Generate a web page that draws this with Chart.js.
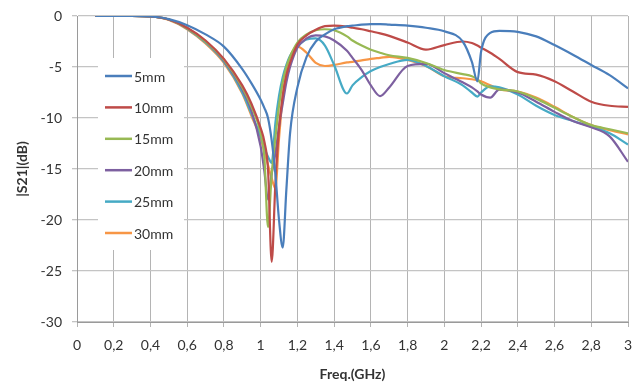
<!DOCTYPE html>
<html>
<head>
<meta charset="utf-8">
<script src="https://cdn.jsdelivr.net/npm/chart.js@4.4.0/dist/chart.umd.min.js"></script>
<style>
  html, body { margin: 0; padding: 0; background: #fff; }
</style>
</head>
<body>
<canvas id="s21Chart" width="633" height="383"></canvas>
<script>
// Frequência (GHz)
const freq = [0.1, 0.2, 0.3, 0.4, 0.5, 0.6, 0.7, 0.8, 0.9, 0.95,
  1.0, 1.02, 1.04, 1.06, 1.08, 1.1, 1.12, 1.14, 1.16, 1.2,
  1.25, 1.3, 1.35, 1.4, 1.47, 1.5, 1.55, 1.6, 1.65, 1.7,
  1.8, 1.9, 2.0, 2.1, 2.15, 2.18, 2.2, 2.25, 2.3, 2.4,
  2.5, 2.6, 2.7, 2.8, 2.9, 3.0];

// |S21| (dB) por espessura
const s5mm = [0, 0, 0, -0.05, -0.3, -0.9, -1.8, -3.0, -5.2, -6.6,
  -8.2, -9.0, -10.0, -12.2, -15.5, -20.0, -22.7, -17.0, -11.5, -7.0,
  -4.0, -2.5, -1.8, -1.3, -1.0, -0.95, -0.85, -0.8, -0.8, -0.85,
  -0.95, -1.15, -1.5, -2.5, -4.5, -6.4, -3.5, -1.65, -1.45, -1.55,
  -2.0, -2.85, -3.8, -4.8, -5.8, -7.1];
const s10mm = [0, 0, 0, -0.05, -0.35, -1.15, -2.4, -4.2, -6.8, -8.6,
  -11.0, -12.3, -15.0, -24.1, -16.5, -11.0, -7.8, -5.8, -4.6, -2.8,
  -1.9, -1.35, -1.0, -0.95, -1.05, -1.15, -1.3, -1.5, -1.7, -1.95,
  -2.6, -3.3, -2.85, -2.5, -2.65, -2.9, -3.1, -3.6, -4.2, -5.5,
  -5.75, -6.4, -7.4, -8.4, -8.8, -8.9];
const s15mm = [0, 0, 0, -0.05, -0.35, -1.2, -2.5, -4.3, -7.0, -8.9,
  -11.5, -13.8, -20.7, -15.5, -12.0, -8.8, -6.5, -5.0, -4.0, -2.6,
  -1.8, -1.4, -1.3, -1.4, -2.0, -2.4, -2.9, -3.3, -3.6, -3.85,
  -4.1, -4.6, -5.3, -5.7, -5.9, -6.2, -6.6, -7.0, -7.2, -7.4,
  -8.1, -9.0, -9.9, -10.7, -11.1, -11.5];
const s20mm = [0, 0, 0, -0.05, -0.35, -1.2, -2.5, -4.4, -7.2, -9.3,
  -12.8, -15.2, -18.0, -15.5, -13.5, -10.8, -8.6, -6.5, -5.0, -3.1,
  -2.2, -1.9, -2.0, -2.4, -3.4, -4.1, -5.3, -6.8, -7.85, -7.0,
  -4.9, -4.7, -5.6, -6.5, -7.0, -7.4, -7.7, -8.0, -7.2, -7.5,
  -8.4, -9.4, -10.3, -10.9, -11.8, -14.3];
const s25mm = [0, 0, 0, -0.05, -0.35, -1.25, -2.6, -4.5, -7.5, -9.6,
  -11.8, -12.9, -13.8, -14.4, -10.5, -7.8, -6.0, -4.8, -3.9, -3.0,
  -2.3, -2.2, -2.9, -4.8, -7.6, -6.8, -6.0, -5.4, -5.0, -4.7,
  -4.3, -4.9, -5.9, -6.8, -7.5, -7.9, -7.5, -6.9, -7.0, -7.7,
  -8.8, -9.7, -10.3, -10.85, -11.5, -12.6];
const s30mm = [0, 0, 0, -0.05, -0.4, -1.3, -2.7, -4.6, -7.6, -9.8,
  -12.0, -13.3, -14.6, -15.9, -16.9, -12.0, -8.0, -5.5, -4.0, -3.0,
  -3.6, -4.6, -4.9, -4.8, -4.55, -4.5, -4.35, -4.2, -4.1, -4.0,
  -4.3, -4.9, -5.9, -6.1, -6.2, -6.3, -6.4, -6.8, -7.2, -7.4,
  -8.0, -8.9, -9.9, -10.7, -11.2, -11.6];

const nomes = ["5mm", "10mm", "15mm", "20mm", "25mm", "30mm"];
const series = [s5mm, s10mm, s15mm, s20mm, s25mm, s30mm];
const cores = ["#4a7ebb", "#be4b48", "#98b954", "#7d60a0", "#46aac5", "#f79646"];

const fonte = "Lato, 'Open Sans', sans-serif";

// legenda desenhada dentro da área do gráfico, com fundo branco
const legendaInterna = {
  id: "legendaInterna",
  beforeDatasetsDraw(chart) {
    const ctx = chart.ctx;
    ctx.save();
    ctx.fillStyle = "#fff";
    ctx.fillRect(98, 58, 86, 192);
    ctx.font = "14px " + fonte;
    ctx.textBaseline = "middle";
    chart.data.datasets.forEach((ds, i) => {
      const y = 76 + i * 31.4;
      ctx.strokeStyle = ds.borderColor;
      ctx.lineWidth = 2.5;
      ctx.beginPath();
      ctx.moveTo(105, y);
      ctx.lineTo(132, y);
      ctx.stroke();
      ctx.fillStyle = "#333";
      ctx.fillText(ds.label, 134, y + 1);
    });
    ctx.restore();
  }
};

new Chart(document.getElementById("s21Chart"), {
  type: "line",
  data: {
    datasets: series.map((vals, i) => ({
      label: nomes[i],
      data: vals.map((v, j) => ({ x: freq[j], y: v })),
      borderColor: cores[i],
      borderWidth: 2.2,
      pointRadius: 0,
      fill: false,
      cubicInterpolationMode: "monotone"
    }))
  },
  options: {
    responsive: false,
    animation: false,
    layout: { padding: { top: 16, right: 5, left: 0, bottom: 0 } },
    plugins: {
      legend: { display: false },
      tooltip: { enabled: false }
    },
    scales: {
      x: {
        type: "linear",
        min: 0,
        max: 3,
        afterFit: (axis) => {
          axis.height = 61;
          axis.paddingLeft = 0;
          axis.paddingRight = 0;
        },
        ticks: {
          stepSize: 0.2,
          padding: 10,
          maxRotation: 0,
          autoSkip: false,
          color: "#333",
          font: { family: fonte, size: 14 },
          callback: (v) => Number(v.toFixed(1)).toString().replace(".", ",")
        },
        grid: { color: "#b4b4b4", lineWidth: 1, tickLength: 5 },
        border: { color: "#9a9a9a" },
        title: {
          display: true,
          text: "Freq.(GHz)",
          color: "#333",
          font: { family: fonte, size: 14, weight: "bold" },
          padding: { top: 12, bottom: 0 }
        }
      },
      y: {
        min: -30,
        max: 0,
        afterFit: (axis) => {
          axis.width = 77;
          axis.paddingTop = 0;
          axis.paddingBottom = 0;
        },
        ticks: {
          stepSize: 5,
          padding: 10,
          color: "#333",
          font: { family: fonte, size: 14 }
        },
        grid: { color: "#c4c4c4", lineWidth: 1.3, tickLength: 5 },
        border: { color: "#9a9a9a" },
        title: {
          display: true,
          text: "|S21|(dB)",
          color: "#333",
          font: { family: fonte, size: 14, weight: "bold" },
          padding: { top: 14, bottom: 0 }
        }
      }
    }
  },
  plugins: [legendaInterna]
});
</script>
</body>
</html>
